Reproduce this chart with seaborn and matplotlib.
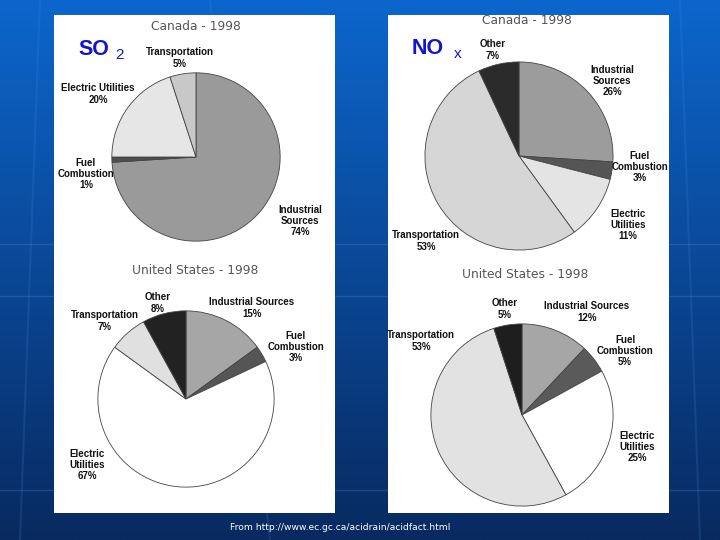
import numpy as np
import matplotlib.pyplot as plt
import seaborn as sns
from matplotlib.patches import Rectangle

# --- data -------------------------------------------------------------
so2_ca_labels = ['Industrial\nSources', 'Fuel\nCombustion', 'Electric Utilities', 'Transportation']
so2_ca_values = [74, 1, 20, 5]

nox_ca_labels = ['Industrial\nSources', 'Fuel\nCombustion', 'Electric\nUtilities', 'Transportation', 'Other']
nox_ca_values = [26, 3, 11, 53, 7]

so2_us_labels = ['Industrial Sources', 'Fuel\nCombustion', 'Electric\nUtilities', 'Transportation', 'Other']
so2_us_values = [15, 3, 67, 7, 8]

nox_us_labels = ['Industrial Sources', 'Fuel\nCombustion', 'Electric\nUtilities', 'Transportation', 'Other']
nox_us_values = [12, 5, 25, 53, 5]

titles = ['Canada - 1998', 'Canada - 1998', 'United States - 1998', 'United States - 1998']
source = 'From http://www.ec.gc.ca/acidrain/acidfact.html'

# --- styles / layout (pixel coordinates on a 720x540 canvas) ---------
sns.set_style('white')
plt.rcParams['font.family'] = ['Liberation Sans', 'DejaVu Sans']

W, H = 720, 540
fig = plt.figure(figsize=(7.2, 5.4), dpi=100)

bg = fig.add_axes([0, 0, 1, 1])
bg.set_xlim(0, W)
bg.set_ylim(H, 0)
bg.axis('off')
grad = np.linspace(0, 1, 256).reshape(-1, 1)
top = np.array([12, 102, 204]) / 255
bot = np.array([8, 42, 96]) / 255
img = top + (bot - top) * grad[:, :, None]
bg.imshow(img, extent=[0, W, H, 0], aspect='auto', zorder=0)
for yy in [244, 296, 490]:
    bg.axhline(yy, color='#4a8ae0', lw=1, alpha=0.3, zorder=1)
for x0, x1 in [(40, 20), (210, 270), (680, 700)]:
    bg.plot([x0, x1], [0, H], color='#4a8ae0', lw=1.5, alpha=0.18, zorder=1)
bg.add_patch(Rectangle((54, 15), 281, 498, facecolor='white', edgecolor='none', zorder=2))
bg.add_patch(Rectangle((388, 15), 281, 498, facecolor='white', edgecolor='none', zorder=2))


def px(x, y):
    return x / W, 1 - y / H


def draw_pie(cx, cy, r, values, colors):
    ax = fig.add_axes([(cx - r) / W, 1 - (cy + r) / H, 2 * r / W, 2 * r / H])
    ax.pie(values, colors=colors, startangle=90, counterclock=False,
           wedgeprops=dict(edgecolor='#444444', linewidth=0.6))
    ax.set_xlim(-1.01, 1.01)
    ax.set_ylim(-1.01, 1.01)
    ax.axis('off')
    return ax


def put_labels(labels, values, positions):
    for lab, v, (x, y) in zip(labels, values, positions):
        fig.text(*px(x, y), f'{lab}\n{v}%', ha='center', va='center', fontsize=7,
                 fontweight='bold', color='#111111', linespacing=1.15)


pies = [
    (196, 157, 85, so2_ca_values, ['#9a9a9a', '#4d4d4d', '#e6e6e6', '#c8c8c8']),
    (519, 156, 95, nox_ca_values, ['#9c9c9c', '#555555', '#e4e4e4', '#d6d6d6', '#2b2b2b']),
    (186, 399, 89, so2_us_values, ['#a6a6a6', '#555555', '#ffffff', '#e0e0e0', '#222222']),
    (522, 415, 92, nox_us_values, ['#a6a6a6', '#5a5a5a', '#ffffff', '#e2e2e2', '#1e1e1e']),
]
for cx, cy, r, vals, cols in pies:
    draw_pie(cx, cy, r, vals, cols)

put_labels(so2_ca_labels, so2_ca_values, [(300, 221), (86, 174), (98, 94), (180, 58)])
put_labels(nox_ca_labels, nox_ca_values, [(612, 81), (640, 167), (628, 225), (426, 241), (493, 50)])
put_labels(so2_us_labels, so2_us_values, [(252, 308), (296, 347), (87, 465), (105, 321), (158, 303)])
put_labels(nox_us_labels, nox_us_values, [(587, 312), (625, 351), (637, 447), (421, 341), (505, 309)])

for t, (x, y) in zip(titles, [(196, 27), (527, 21), (195, 271), (525, 275)]):
    fig.text(*px(x, y), t, ha='center', va='center', fontsize=8.8,
             color='#555555', family='DejaVu Sans')

blue = '#1414cc'
fig.text(*px(78, 55), 'SO', ha='left', va='baseline', fontsize=15.5,
         fontweight='heavy', color=blue)
fig.text(*px(115, 59), '2', ha='left', va='baseline', fontsize=11, color=blue)
fig.text(*px(412, 54), 'NO', ha='left', va='baseline', fontsize=15.5,
         fontweight='heavy', color=blue)
fig.text(*px(454, 58), 'x', ha='left', va='baseline', fontsize=11, color=blue)

fig.text(*px(340, 528), source, ha='center', va='center', fontsize=6.6,
         color='white', family='DejaVu Sans')

fig.savefig('out.png', dpi=100)
